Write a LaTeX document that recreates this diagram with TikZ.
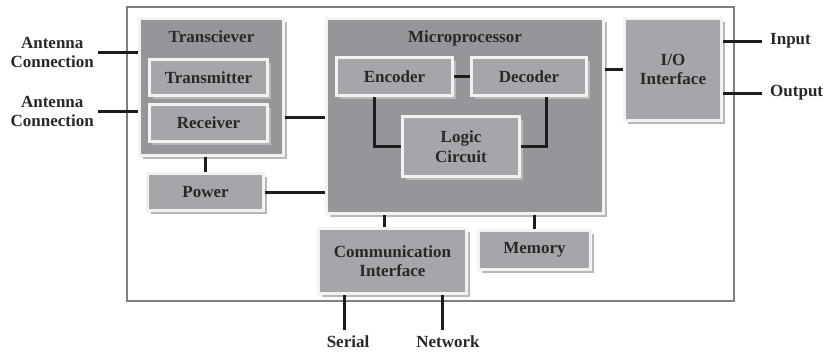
\documentclass[tikz,border=0pt]{standalone}
\usepackage{fontspec}
\setmainfont{Liberation Serif}
\usetikzlibrary{shadows,calc}

\definecolor{blockdark}{RGB}{150,150,154}
\definecolor{blocklight}{RGB}{166,166,170}
\definecolor{blockedge}{RGB}{242,242,242}
\definecolor{wirecol}{RGB}{28,28,28}
\definecolor{textcol}{RGB}{40,40,40}

\def\boxfont{\bfseries\fontsize{17}{19.5}\selectfont}

\tikzset{
    blk/.style = {draw = blockedge, line width = 3pt, fill = blocklight,
        inner sep = 0pt, align = center, text = textcol, font = \boxfont,
        drop shadow = {shadow xshift = 3.5pt, shadow yshift = -3.5pt,
            fill = black!28, opacity = 1}},
    bigblk/.style = {blk, fill = blockdark},
    wire/.style = {draw = wirecol, line width = 3pt},
    lbl/.style = {inner sep = 0pt, align = center, text = textcol, font = \boxfont},
}

\begin{document}
\begin{tikzpicture}[x = 1pt, y = -1pt]
    \useasboundingbox (0,0) rectangle (824,351);

    %% outer frame
    \draw [line width = 2.5pt, draw = black!50] (127,7) rectangle (734,301);

    %% transceiver
    \node [bigblk, minimum width = 144pt, minimum height = 137pt] (trx) at (211.5,87) {};
    \node [lbl] (trxname) at (211.5,37) {Transciever};
    \node [blk, minimum width = 118pt, minimum height = 36pt] (tx) at (208.5,77.5) {Transmitter};
    \node [blk, minimum width = 118pt, minimum height = 37pt] (rx) at (208.5,123) {Receiver};
    \node [blk, minimum width = 116pt, minimum height = 37pt] (power) at (205.5,192) {Power};

    %% microprocessor
    \node [bigblk, minimum width = 277pt, minimum height = 195pt] (micro) at (465,116) {};
    \node [lbl] (microname) at (465,38) {Microprocessor};
    \node [blk, minimum width = 116pt, minimum height = 38pt] (enc) at (394.5,76.5) {Encoder};
    \node [blk, minimum width = 115pt, minimum height = 38pt] (dec) at (529,76.5) {Decoder};
    \node [blk, minimum width = 117pt, minimum height = 60pt] (logic) at (461,146.5) {Logic\\Circuit};

    %% interfaces and memory
    \node [blk, minimum width = 97pt, minimum height = 102pt] (io) at (673,69.5) {I/O\\Interface};
    \node [blk, minimum width = 148pt, minimum height = 65pt] (comm) at (392.5,261) {Communication\\Interface};
    \node [blk, minimum width = 112pt, minimum height = 39pt] (mem) at (534.5,250) {Memory};

    %% outside labels
    \node [lbl, anchor = east] (antA) at (94,52.5) {Antenna\\Connection};
    \node [lbl, anchor = east] (antB) at (94,111.5) {Antenna\\Connection};
    \coordinate (inp) at (762,41);
    \coordinate (outp) at (762,93);
    \node [lbl, anchor = west] (inptxt) at (770,41) {Input};
    \node [lbl, anchor = west] (outptxt) at (770,93) {Output};
    \coordinate (ser) at (344,330);
    \coordinate (net) at (442,330);
    \node [lbl, anchor = base] (sertxt) at (348,347) {Serial};
    \node [lbl, anchor = base] (nettxt) at (448,347) {Network};

    %% wires
    \draw [wire] ([xshift = 4pt]antA.east) -- (antA.east -| trx.west);
    \draw [wire] ([xshift = 4pt]antB.east) -- (antB.east -| trx.west);
    \draw [wire] ([yshift = -30pt]trx.east) -- ([yshift = -30pt]trx.east -| micro.west);
    \draw [wire] (power.north) -- (power.north |- trx.south);
    \draw [wire] (power.east) -- (power.east -| micro.west);
    \draw [wire] (enc.east) -- (dec.west);
    \draw [wire] ([xshift = -20pt]enc.south) |- (logic.west);
    \draw [wire] ([xshift = 17pt]dec.south) |- (logic.east);
    \draw [wire] (micro.east |- io.west) -- (io.west);
    \draw [wire] (inp -| io.east) -- (inp);
    \draw [wire] (outp -| io.east) -- (outp);
    \draw [wire] ([xshift = -8pt]comm.north) -- ([xshift = -8pt]comm.north |- micro.south);
    \draw [wire] (mem.north) -- (mem.north |- micro.south);
    \draw [wire] (ser |- comm.south) -- (ser);
    \draw [wire] (net |- comm.south) -- (net);
\end{tikzpicture}
\end{document}
